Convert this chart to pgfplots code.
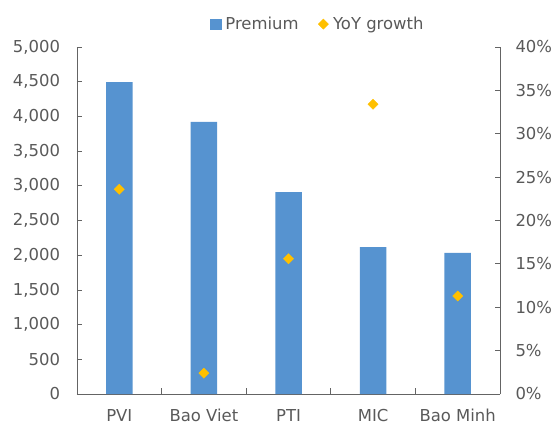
\documentclass[border=0pt]{standalone}
\usepackage{fontspec}
\setmainfont{DejaVu Sans}
\usepackage{pgfplots}
\pgfplotsset{compat=1.18}
\definecolor{barblue}{RGB}{86,147,208}
\definecolor{dotgold}{RGB}{255,192,0}
\definecolor{txtgray}{RGB}{89,89,89}
\definecolor{axgray}{RGB}{100,100,100}

\begin{document}
\begin{tikzpicture}
\pgfplotsset{
  base/.style={
    scale only axis, width=423bp, height=347bp,
    at={(0,0)}, anchor=south west,
    xmin=-0.5, xmax=4.5,
    tick align=inside,
    tick style={axgray, line width=0.8pt},
    axis line style={axgray, line width=0.8pt},
    ticklabel style={font=\fontsize{16.5}{19}\selectfont, text=txtgray},
    /pgf/number format/assume math mode=true,
  }
}
\begin{axis}[base,
  axis x line*=bottom, axis y line*=left,
  ymin=0, ymax=5000, ytick={0,500,...,5000},
  /pgf/number format/fixed,
  /pgf/number format/1000 sep={,},
  xtick={0,1,2,3,4},
  xticklabels={PVI, Bao Viet, PTI, MIC, Bao Minh},
  major x tick style={draw=none},
  minor xtick={-0.5,0.5,1.5,2.5,3.5,4.5},
  minor tick length=6bp, major tick length=5bp,
  xticklabel style={yshift=-11.5bp},
  yticklabel style={xshift=-13.5bp},
]
\addplot[ybar, bar width=26.5bp, fill=barblue, draw=none, bar shift=0pt]
  coordinates {(0,4495) (1,3922) (2,2910) (3,2118) (4,2032)};
\end{axis}
\begin{axis}[base,
  axis x line=none, axis y line*=right,
  ymin=0, ymax=0.40, ytick={0,0.05,...,0.401},
  yticklabel={\pgfmathparse{\tick*100}\pgfmathprintnumber[fixed,precision=0]{\pgfmathresult}\%},
  major tick length=5bp,
  yticklabel style={xshift=12bp},
  legend columns=2,
  legend style={draw=none, fill=none, inner sep=0pt, outer sep=0pt,
    at={(0.3155,1.066)}, anchor=west,
    font=\fontsize{16.5}{19}\selectfont, text=txtgray,
    nodes={inner sep=2.5bp},
    /tikz/every even column/.append style={column sep=17bp}},
  legend cell align=left,
  legend image code/.code={%
    \path[draw=none, fill=none] (0bp,-5.3bp) rectangle (12.5bp,5.3bp);
    \draw[#1] plot coordinates {(5.3bp,0bp)};},
]
\addlegendimage{only marks, mark=square*, mark size=5.3bp, color=barblue}
\addlegendentry{Premium}
\addplot[only marks, mark=square*, mark size=3.6bp, mark options={rotate=45}, color=dotgold]
  coordinates {(0,0.236) (1,0.024) (2,0.156) (3,0.334) (4,0.113)};
\addlegendentry{YoY growth}
\end{axis}
\useasboundingbox (-77bp,-34bp) rectangle (481bp,394bp);
\end{tikzpicture}
\end{document}
